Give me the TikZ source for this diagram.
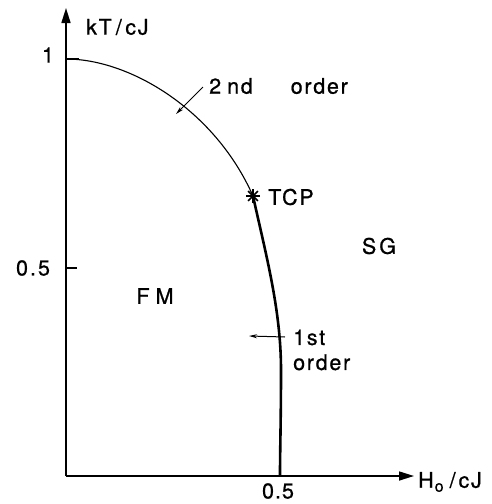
\documentclass[tikz,border=0pt]{standalone}
\usepackage{fontspec}
\setmainfont{TeX Gyre Heros}
\newfontfamily\lett[LetterSpace=8,FakeBold=0.8]{TeX Gyre Heros}
\usetikzlibrary{arrows.meta,calc}
\begin{document}
\begin{tikzpicture}[x=1pt,y=-1pt,
  lbl/.style={font=\lett\fontsize{21.5}{25}\selectfont, inner sep=0pt},
  axis/.style={line width=1.6pt, -{Triangle[length=15pt,width=9pt]}},
  thin curve/.style={line width=1.1pt},
  thick curve/.style={line width=2.6pt},
  pointer/.style={line width=1pt, -{Stealth[length=8pt,width=4pt]}},
  tickmark/.style={line width=2pt}]
\useasboundingbox (0,0) rectangle (491,504);
% axes
\coordinate (O) at (66,476);
\coordinate (ytop) at (66,8);
\coordinate (xend) at (414,476);
\draw[axis] (O) -- (ytop);
\draw[axis] (O) -- (xend);
% ticks
\coordinate (t1a) at (66,59); \coordinate (t1b) at (79,59);
\coordinate (t5a) at (66,268); \coordinate (t5b) at (77,268);
\draw[tickmark] (t1a) -- (t1b);
\draw[line width=1.4pt] (t5a) -- (t5b);
% axis labels
\node[lbl, anchor=west] (ylab) at (86,27) {kT\hspace{4pt}/\,cJ};
\node[lbl, anchor=west] (xlab) at (418,482) {H\kern1pt\raisebox{-4pt}{\fontsize{16}{16}\selectfont o}\hspace{6pt}/\hspace{3pt}cJ};
\node[lbl] (one) at (48,55) {1};
\node[lbl] (yhalf) at (33,268) {0\kern2pt.\kern2pt5};
\node[lbl] (xhalf) at (278,491) {0\kern1pt.\kern1pt5};
% phase boundary
\coordinate (top) at (66,59);
\coordinate (tcp) at (253,196);
\coordinate (mid) at (281,370);
\coordinate (bot) at (280,476);
\draw[thin curve] (top) .. controls (130,59) and (215,110) .. (tcp);
\draw[thick curve] (tcp) .. controls (266,255) and (281,310) .. (mid)
                         .. controls (281,420) and (280,450) .. (bot);
% TCP star
\foreach \a in {0,45,90,135} {
  \draw[line width=1.5pt] ($(tcp)+(\a:7)$) -- ($(tcp)+(\a+180:7)$);
}
\node[lbl, anchor=west] (tcplab) at (268,197) {TCP};
% regions
\node[lbl] (fm) at (155,296) {F\hspace{6pt}M};
\node[lbl] (sg) at (379,246) {S\hspace{3pt}G};
% 2nd order
\node[lbl, anchor=west] (second) at (209,86) {2\hspace{6pt}nd\hspace{38pt}order};
\coordinate (a2s) at (203,87);
\coordinate (a2e) at (176,114);
\draw[pointer] (a2s) -- (a2e);
% 1st order
\node[lbl, anchor=west, align=left] (first) at (293,350) {1st\\order};
\coordinate (a1s) at (285,337);
\coordinate (a1e) at (249,336);
\draw[pointer] (a1s) -- (a1e);
\end{tikzpicture}
\end{document}
